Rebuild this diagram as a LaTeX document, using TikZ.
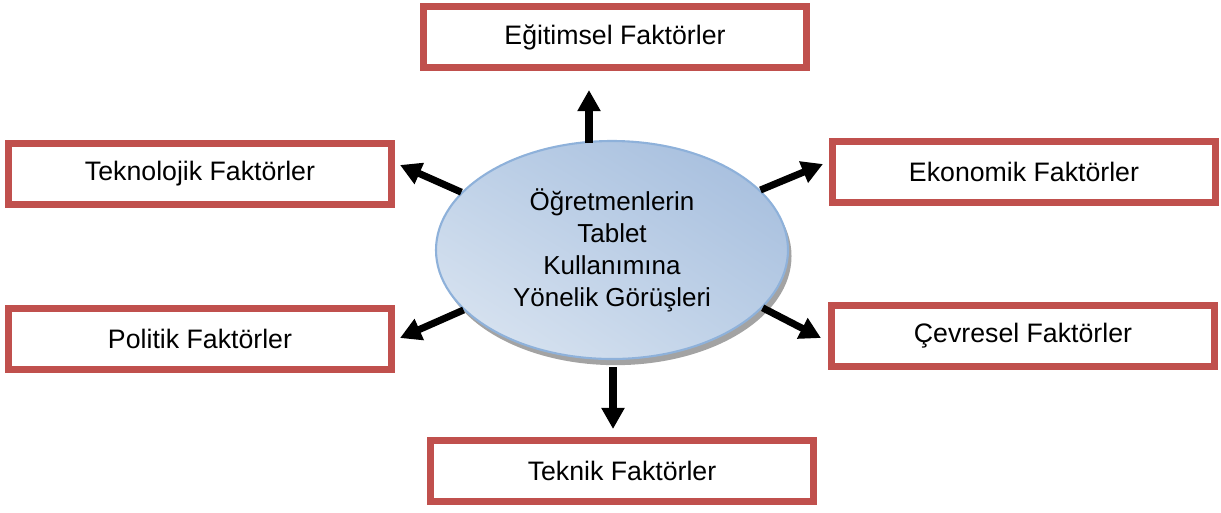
\documentclass[tikz,border=0pt]{standalone}
\usepackage{fontspec}
\setmainfont{Liberation Sans}
\usetikzlibrary{arrows.meta,shadows,shadings,shapes.geometric}

\definecolor{boxRed}{HTML}{C0504D}
\definecolor{ellEdge}{HTML}{8EB1DA}
\definecolor{ellLight}{HTML}{DEE7F2}
\definecolor{ellMid}{HTML}{BDD0E7}
\definecolor{ellDark}{HTML}{A2BBDC}

\begin{document}
\begin{tikzpicture}[
            x=0.02cm, y=-0.02cm,
            factor/.style = {
                draw=boxRed, line width=7*0.02cm, fill=white,
                minimum width=383*0.02cm, minimum height=61*0.02cm,
                font=\fontsize{15.2}{18}\selectfont
            },
            view/.style = {
                ellipse, draw=ellEdge, line width=1.2pt,
                minimum width=352*0.02cm, minimum height=218*0.02cm,
                upper left=ellMid, upper right=ellDark,
                lower left=ellLight, lower right=ellMid,
                drop shadow={shadow xshift=2pt, shadow yshift=-3.5pt,
                             fill=black!45, opacity=0.8},
                align=center, font=\fontsize{14.8}{18.2}\selectfont
            },
            arrow/.style = {
                line width=4pt,
                -{Triangle[length=12pt,width=12.5pt]}
            }
            ]
            \useasboundingbox (0,0) rectangle (1221,512);

            % Nodes
            \node[view] (ell) at (612,250)
                {Öğretmenlerin\\Tablet\\Kullanımına\\Yönelik Görüşleri};

            \node[factor] (egt) at (615,37)  {Eğitimsel Faktörler};
            \node[factor] (tek) at (200,174) {Teknolojik Faktörler};
            \node[factor] (eko) at (1024,172) {Ekonomik Faktörler};
            \node[factor] (pol) at (200,339) {Politik Faktörler};
            \node[factor] (cev) at (1023,336) {Çevresel Faktörler};
            \node[factor] (tkn) at (622,471) {Teknik Faktörler};

            % Arrows
            \draw[arrow] ([shift={(-23,3)}]ell.north) -- ([shift={(-26,19)}]egt.south);
            \draw[arrow] (ell.159) -- ([shift={(5,-9)}]tek.east);
            \draw[arrow] (ell.22)  -- ([shift={(-6,-8)}]eko.west);
            \draw[arrow] (ell.202) -- ([shift={(5,-1)}]pol.east);
            \draw[arrow] (ell.-21) -- ([shift={(-7,2)}]cev.west);
            \draw[arrow] ([shift={(1,7)}]ell.south) -- ([shift={(-9,-8)}]tkn.north);
        \end{tikzpicture}
\end{document}
